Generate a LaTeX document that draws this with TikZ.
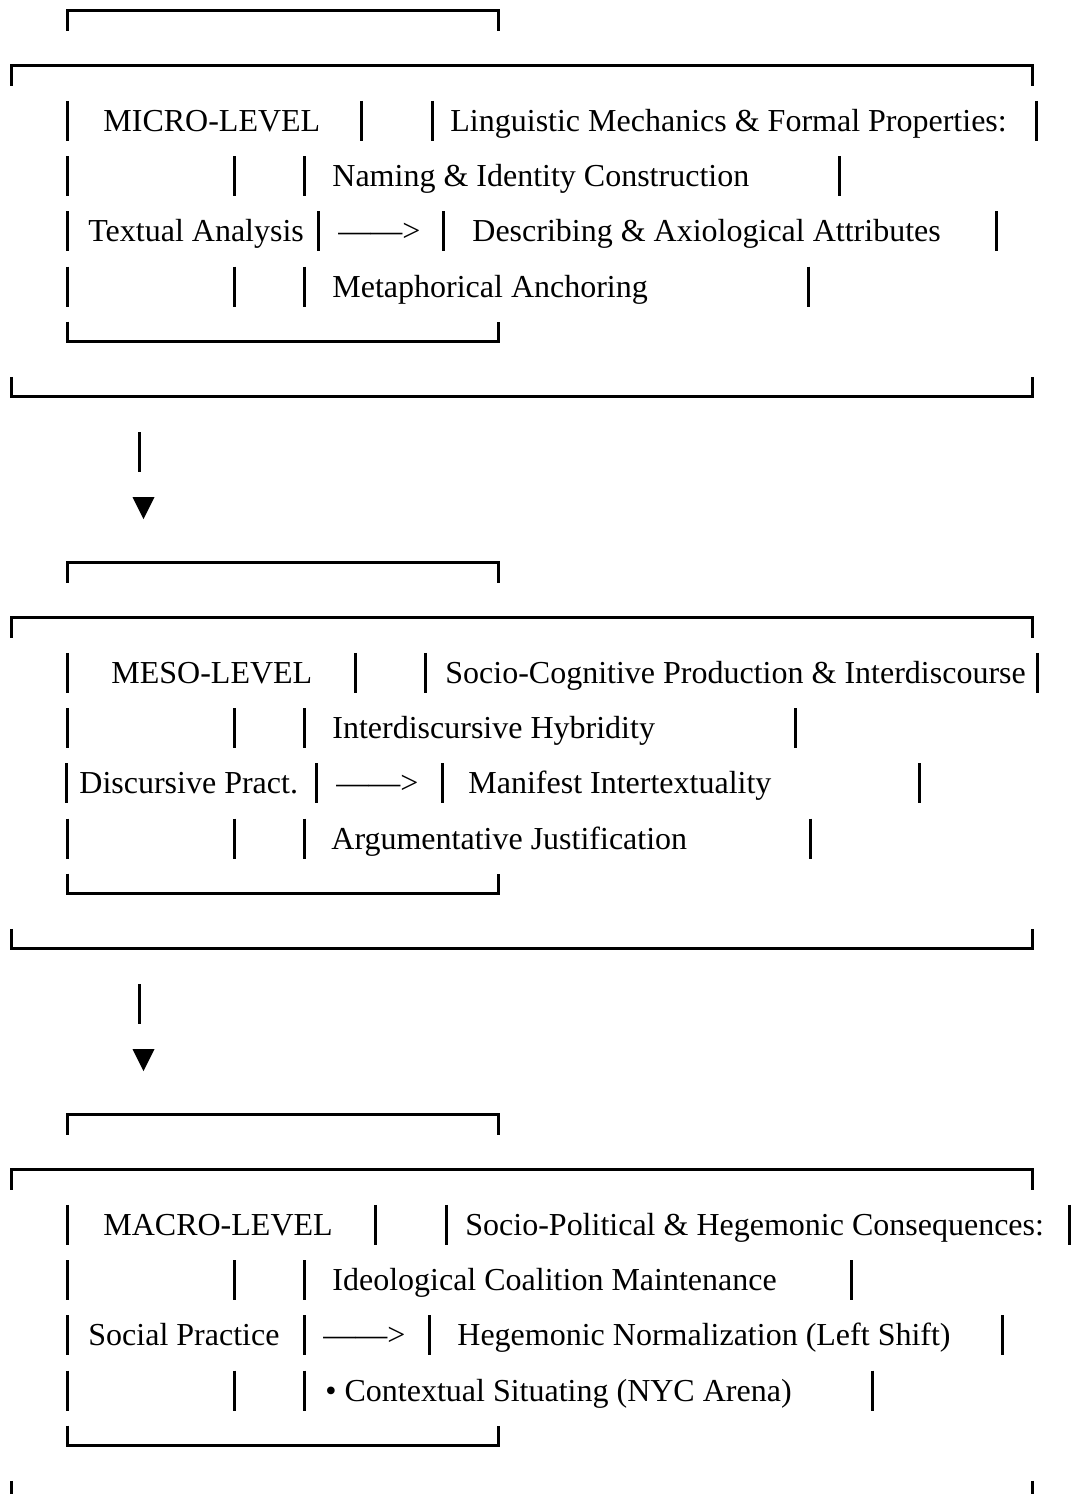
\documentclass[tikz,border=0pt]{standalone}
\usepackage{fontspec}
\setmainfont{Liberation Serif}

\begin{document}
\begin{tikzpicture}[x=0.5pt,y=-0.5pt,
    txt/.style={anchor=base west,inner sep=0pt,font=\fontsize{16}{19}\selectfont},
    rule/.style={line width=1.5pt}]
    \useasboundingbox (0,0) rectangle (1077,1494);
    % Brackets of the three levels
    \foreach \o in {0,552,1104} {
        \draw[rule] (67,30.5+\o) -- (67,10.5+\o) -- (498,10.5+\o) -- (498,30.5+\o);
        \draw[rule] (11,85.7+\o) -- (11,65.7+\o) -- (1032,65.7+\o) -- (1032,85.7+\o);
        \draw[rule] (67,321.7+\o) -- (67,341.7+\o) -- (498,341.7+\o) -- (498,321.7+\o);
    }
    \foreach \o in {0,552} {
        \draw[rule] (11,376.9+\o) -- (11,396.9+\o) -- (1032,396.9+\o) -- (1032,376.9+\o);
        % Down arrow to next level
        \draw[rule] (139,432.1+\o) -- (139,472.1+\o);
        \fill (132.5,497+\o) -- (154.5,497+\o) -- (143.5,519+\o) -- cycle;
    }
    \draw[rule] (11,1480.9) -- (11,1494);
    \draw[rule] (1032,1480.9) -- (1032,1494);

    % Micro level
    \foreach \x in {67,361,432,1036} \draw[rule] (\x,100.9) -- (\x,140.9);
    \foreach \x in {67,234,304,839} \draw[rule] (\x,156.1) -- (\x,196.1);
    \foreach \x in {67,318,443,996} \draw[rule] (\x,211.3) -- (\x,251.3);
    \foreach \x in {67,234,304,808} \draw[rule] (\x,266.5) -- (\x,306.5);
    \node[txt] (micro) at (103,131.5) {MICRO-LEVEL};
    \node[txt] (micro-head) at (450,131.5) {Linguistic Mechanics \& Formal Properties:};
    \node[txt] (micro-a) at (332,186.7) {Naming \& Identity Construction};
    \node[txt] (micro-name) at (88,241.9) {Textual Analysis};
    \node[txt] (micro-arr) at (338,241.9) {——>};
    \node[txt] (micro-b) at (472,241.9) {Describing \& Axiological Attributes};
    \node[txt] (micro-c) at (332,297.1) {Metaphorical Anchoring};

    % Meso level
    \foreach \x in {67,355,425,1037} \draw[rule] (\x,652.9) -- (\x,692.9);
    \foreach \x in {67,234,304,795} \draw[rule] (\x,708.1) -- (\x,748.1);
    \foreach \x in {66,316,442,919} \draw[rule] (\x,763.3) -- (\x,803.3);
    \foreach \x in {67,234,304,810} \draw[rule] (\x,818.5) -- (\x,858.5);
    \node[txt] (meso) at (111,683.5) {MESO-LEVEL};
    \node[txt] (meso-head) at (445,683.5) {Socio-Cognitive Production \& Interdiscourse};
    \node[txt] (meso-a) at (332,738.7) {Interdiscursive Hybridity};
    \node[txt] (meso-name) at (79,793.9) {Discursive Pract.};
    \node[txt] (meso-arr) at (336,793.9) {——>};
    \node[txt] (meso-b) at (468,793.9) {Manifest Intertextuality};
    \node[txt] (meso-c) at (331,849.1) {Argumentative Justification};

    % Macro level
    \foreach \x in {67,375,446,1069} \draw[rule] (\x,1204.9) -- (\x,1244.9);
    \foreach \x in {67,234,304,851} \draw[rule] (\x,1260.1) -- (\x,1300.1);
    \foreach \x in {67,304,429,1002} \draw[rule] (\x,1315.3) -- (\x,1355.3);
    \foreach \x in {67,234,304,872} \draw[rule] (\x,1370.5) -- (\x,1410.5);
    \node[txt] (macro) at (103,1235.5) {MACRO-LEVEL};
    \node[txt] (macro-head) at (465,1235.5) {Socio-Political \& Hegemonic Consequences:};
    \node[txt] (macro-a) at (332,1290.7) {Ideological Coalition Maintenance};
    \node[txt] (macro-name) at (88,1345.9) {Social Practice};
    \node[txt] (macro-arr) at (323,1345.9) {——>};
    \node[txt] (macro-b) at (457,1345.9) {Hegemonic Normalization (Left Shift)};
    \node[txt] (macro-c) at (325,1401.1) {• Contextual Situating (NYC Arena)};
\end{tikzpicture}
\end{document}
